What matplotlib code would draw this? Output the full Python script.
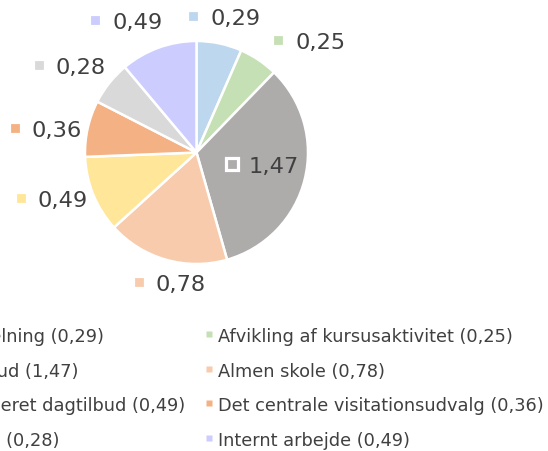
import matplotlib
matplotlib.use("Agg")
import matplotlib.pyplot as plt

# data
categories = ["Afdelingsfordelning", "Afvikling af kursusaktivitet",
              "Almen dagtilbud", "Almen skole",
              "Delvist segregeret dagtilbud", "Det centrale visitationsudvalg",
              "Forebyggende", "Internt arbejde"]
values = [0.29, 0.25, 1.47, 0.78, 0.49, 0.36, 0.28, 0.49]
value_labels = ["0,29", "0,25", "1,47", "0,78", "0,49", "0,36", "0,28", "0,49"]
colors = ["#BDD7EE", "#C5E0B4", "#AEABAB", "#F8CBAD",
          "#FFE699", "#F4B183", "#D9D9D9", "#CCCCFF"]

# where each data label's marker sits (pie radius = 1)
label_pos = [(-0.031, 1.224), (0.731, 1.009), (0.318, -0.103), (-0.516, -1.161),
             (-1.574, -0.408), (-1.628, 0.220), (-1.413, 0.785), (-0.910, 1.188)]

W, H = 548, 452
txt = "#404040"
fig = plt.figure(figsize=(W / 100, H / 100), dpi=100)

cx, cy, r = 196.5, 153.5, 111.5
ax = fig.add_axes([(cx - r) / W, (H - cy - r) / H, 2 * r / W, 2 * r / H])
ax.pie(values, colors=colors, startangle=90, counterclock=False,
       wedgeprops=dict(edgecolor="white", linewidth=1.8))
ax.set_xlim(-1, 1)
ax.set_ylim(-1, 1)
ax.axis("off")

for (lx, ly), lab, c in zip(label_pos, value_labels, colors):
    ax.plot(lx, ly, marker="s", ms=8.3, color=c, mec="white", mew=2.3,
            clip_on=False, zorder=5)
    ax.annotate(lab, (lx, ly), xytext=(17, -8), textcoords="offset pixels",
                fontsize=16.2, color=txt, va="baseline", ha="left",
                annotation_clip=False)

# legend, two columns, row-major like the original
lax = fig.add_axes([0, 0, 1, 1])
lax.set_xlim(0, W)
lax.set_ylim(H, 0)
lax.axis("off")
col_x = [-127, 218]
row_y0, row_dy = 335, 34.7
for i, (name, lab, c) in enumerate(zip(categories, value_labels, colors)):
    x = col_x[i % 2]
    y = row_y0 + row_dy * (i // 2)
    lax.plot(x - 9, y, marker="s", ms=3.8, color=c, mec="none", clip_on=False)
    lax.text(x, y + 7, f"{name} ({lab})", fontsize=12.75, color=txt,
             va="baseline", ha="left")

fig.savefig("out.png", dpi=100)
